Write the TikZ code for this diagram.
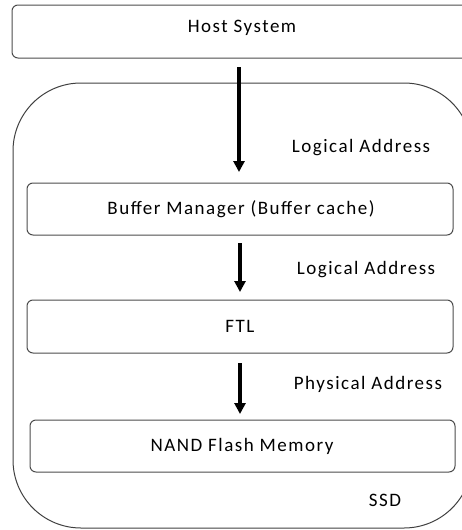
\documentclass[tikz,border=0pt]{standalone}
\usepackage{fontspec}
\setmainfont{Carlito}[LetterSpace=8]
\usetikzlibrary{arrows.meta}
\begin{document}
\begin{tikzpicture}[x=1pt,y=-1pt,
  layer/.style={draw=black!70,line width=1pt,rounded corners=6pt},
  flow/.style={line width=3.2pt,-{Triangle[length=11pt,width=11pt]}},
  lbl/.style={font=\fontsize{19}{21}\selectfont,inner sep=0pt}]
\useasboundingbox (0,0) rectangle (462,530);
\clip (0,0) rectangle (462,530);
% host
\draw[layer] (12,5) rectangle (480,58);
\node[lbl] (host) at (242,28) {Host System};
% ssd
\draw[draw=black!75,line width=1pt,rounded corners=68pt] (13,83) rectangle (472,528);
\node[lbl] (ssd) at (385,500) {SSD};
% layers
\draw[layer] (27,183) rectangle (453,235);
\node[lbl] (buf) at (241,209) {Buffer Manager (Buffer cache)};
\draw[layer] (27,300) rectangle (453,353);
\node[lbl] (ftl) at (240,326) {FTL};
\draw[layer] (30,420) rectangle (455,472);
\node[lbl] (nand) at (242,446) {NAND Flash Memory};
% arrows
\coordinate (a1s) at (239,67); \coordinate (a1e) at (239,172);
\coordinate (a2s) at (240,243); \coordinate (a2e) at (240,292);
\coordinate (a3s) at (240,363); \coordinate (a3e) at (240,414);
\draw[flow] (a1s) -- (a1e);
\draw[flow] (a2s) -- (a2e);
\draw[flow] (a3s) -- (a3e);
\node[lbl] (l1) at (361,148) {Logical Address};
\node[lbl] (l2) at (366,270) {Logical Address};
\node[lbl] (l3) at (368,384) {Physical Address};
\end{tikzpicture}
\end{document}
